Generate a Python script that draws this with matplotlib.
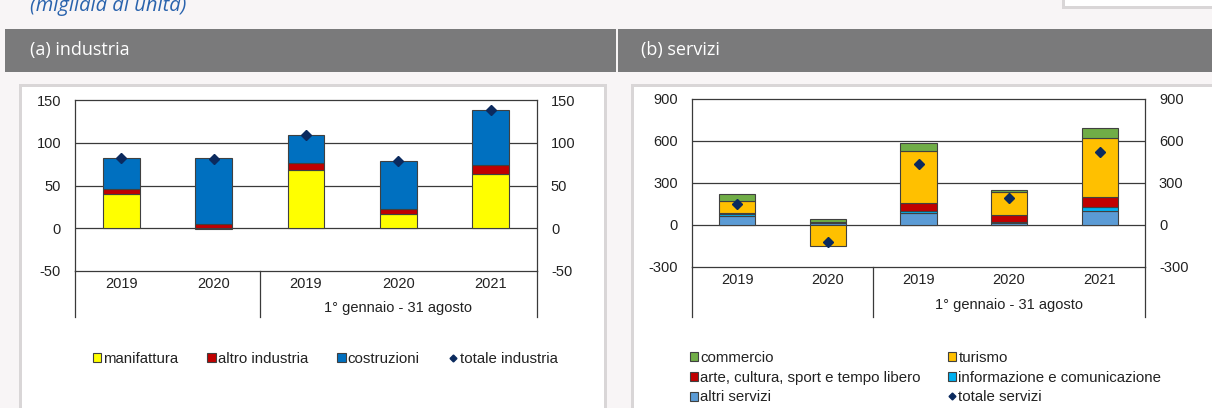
import matplotlib.pyplot as plt
from matplotlib.patches import Rectangle, Patch
from matplotlib.lines import Line2D
import numpy as np

plt.rcParams['font.family'] = ['Liberation Sans', 'DejaVu Sans']
plt.rcParams['axes.unicode_minus'] = False

W, H = 1212, 408

# data
categories = ['2019', '2020', '2019', '2020', '2021']
period_label = '1° gennaio - 31 agosto'

manifattura = [40, -1, 68, 17, 64]
altro_industria = [6, 4.5, 8.5, 6, 10]
costruzioni = [36, 78, 33, 56, 64]
totale_industria = [82, 81.5, 109, 79, 138]

altri_servizi = [62, 15, 86, 14, 102]
informazione = [18, 10, 14, 5, 29]
arte = [3, 0, 60, 50, 69]
turismo = [90, -150, 369, 169, 421]
commercio = [48, 15, 54, 12, 74]
totale_servizi = [152, -119, 438, 193, 519]

TXT = '#222222'
LINE = '#3a3a3a'
DOT = '#0b2a5e'


def fpx(x0, y0, x1, y1):
    return [x0 / W, 1 - y1 / H, (x1 - x0) / W, (y1 - y0) / H]


def rect(x0, y0, x1, y1, color, z=0):
    fig.add_artist(Rectangle((x0 / W, 1 - y1 / H), (x1 - x0) / W, (y1 - y0) / H,
                             transform=fig.transFigure, color=color, zorder=z, lw=0))


fig = plt.figure(figsize=(W / 100, H / 100), dpi=100)
fig.patch.set_facecolor('#f8f5f6')

# header bands and panel boxes
rect(5, 29, 616, 72, '#7a7a7b')
rect(618, 29, 1212, 72, '#7a7a7b')
rect(19, 84, 607, 408, '#d9d6d7')
rect(22, 87, 604, 408, 'white')
rect(631, 84, 1212, 408, '#d9d6d7')
rect(634, 87, 1212, 408, 'white')
rect(1062, 0, 1212, 9, '#d9d6d7')
rect(1065, 0, 1212, 6, 'white')

fig.text(30 / W, 1 - 11 / H, '(migliaia di unità)', color='#2a63ad', fontsize=14.5,
         style='italic', family='Open Sans', va='baseline')
fig.text(30 / W, 1 - 50 / H, '(a) industria', color='white', fontsize=13,
         family='Open Sans', va='center')
fig.text(641 / W, 1 - 50 / H, '(b) servizi', color='white', fontsize=13,
         family='Open Sans', va='center')


def stack(ax, x, series, colors):
    pos = np.zeros(len(x))
    neg = np.zeros(len(x))
    for vals, col in zip(series, colors):
        v = np.array(vals, dtype=float)
        bottom = np.where(v >= 0, pos, neg)
        ax.bar(x, v, 0.4, bottom=bottom, color=col, edgecolor='#404040', lw=0.8, zorder=3)
        pos = pos + np.where(v >= 0, v, 0)
        neg = neg + np.where(v < 0, v, 0)


def setup(ax, ylim, ticks, sep_len, period_y):
    x = np.arange(len(categories))
    ax.set_xlim(-0.5, len(categories) - 0.5)
    ax.set_ylim(*ylim)
    ax.set_yticks(ticks)
    ax.set_xticks([])
    ax.tick_params(axis='y', length=0, labelsize=10.5, colors=TXT, pad=10,
                   labelleft=True, labelright=True)
    for sp in ax.spines.values():
        sp.set_color(LINE)
        sp.set_linewidth(0.9)
    for t in ticks[1:-1]:
        ax.axhline(t, color=LINE, lw=0.9, zorder=1)
    trans = ax.get_xaxis_transform()
    for c, lab in zip(x, categories):
        ax.text(c, -0.075, lab, transform=trans, ha='center', va='center',
                fontsize=10.5, color=TXT)
    ax.text(3, period_y, period_label, transform=trans, ha='center', va='center',
            fontsize=10.5, color=TXT)
    for b in [-0.5, 1.5, len(categories) - 0.5]:
        ax.plot([b, b], [0, -sep_len], transform=trans, color=LINE, lw=0.9,
                clip_on=False)
    return x


# (a) industria
ax1 = fig.add_axes(fpx(75, 100, 537, 271))
x = setup(ax1, (-50, 150), [-50, 0, 50, 100, 150], 0.27, -0.215)
ind_cols = ['#ffff00', '#c00000', '#0070c0']
stack(ax1, x, [manifattura, altro_industria, costruzioni], ind_cols)
ax1.plot(x, totale_industria, 'D', color=DOT, ms=5, zorder=4)

h1 = [Patch(facecolor=c, edgecolor='#404040', lw=0.8) for c in ind_cols]
h1.append(Line2D([], [], marker='D', ls='', color=DOT, ms=3.5))
fig.legend(h1, ['manifattura', 'altro industria', 'costruzioni', 'totale industria'],
           loc='center', bbox_to_anchor=(325 / W, 1 - 359 / H), ncol=4, frameon=False,
           fontsize=10.8, handlelength=0.55, handleheight=0.55, handletextpad=0.15,
           columnspacing=1.95, labelcolor=TXT)

# (b) servizi
ax2 = fig.add_axes(fpx(692, 99, 1145, 267))
x = setup(ax2, (-300, 900), [-300, 0, 300, 600, 900], 0.295, -0.225)
serv_cols = ['#5b9bd5', '#00b0f0', '#c00000', '#ffc000', '#70ad47']
stack(ax2, x, [altri_servizi, informazione, arte, turismo, commercio], serv_cols)
ax2.plot(x, totale_servizi, 'D', color=DOT, ms=5, zorder=4)


def sq(c):
    return Patch(facecolor=c, edgecolor='#404040', lw=0.8)


h2 = [sq('#70ad47'), sq('#c00000'), sq('#5b9bd5'),
      sq('#ffc000'), sq('#00b0f0'),
      Line2D([], [], marker='D', ls='', color=DOT, ms=3.5)]
l2 = ['commercio', 'arte, cultura, sport e tempo libero', 'altri servizi',
      'turismo', 'informazione e comunicazione', 'totale servizi']
fig.legend(h2, l2, loc='upper left', bbox_to_anchor=(690 / W, 1 - 351 / H), ncol=2,
           frameon=False, fontsize=10.8, handlelength=0.55, handleheight=0.55,
           handletextpad=0.15, columnspacing=1.8, labelspacing=0.38, labelcolor=TXT,
           borderpad=0, borderaxespad=0)

fig.savefig('out.png', dpi=100, facecolor=fig.get_facecolor())
